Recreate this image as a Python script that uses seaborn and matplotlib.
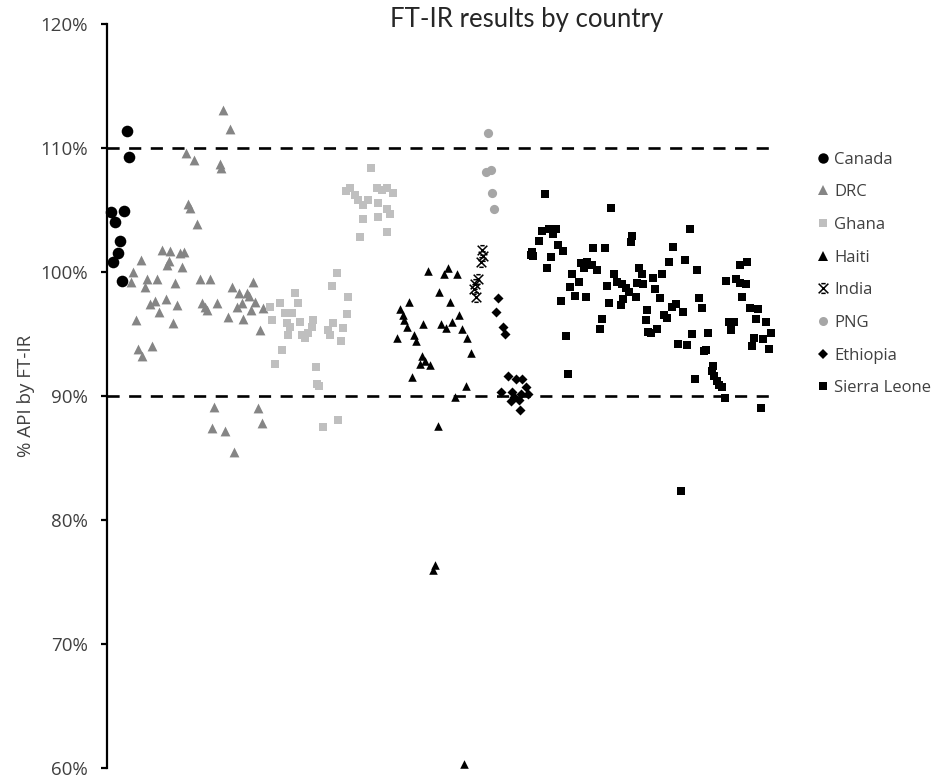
import numpy as np
import pandas as pd
import matplotlib
matplotlib.use("Agg")
import matplotlib.pyplot as plt
from matplotlib.path import Path
from matplotlib.lines import Line2D
from matplotlib.ticker import FuncFormatter
import seaborn as sns

# ---------------- data (sample position, % API by FT-IR) ----------------
countries = ["Canada", "DRC", "Ghana", "Haiti", "India", "PNG", "Ethiopia", "Sierra Leone"]

canada_x = [20, 22, 4, 17, 8, 13, 11, 6, 15]
canada_y = [111.4, 109.3, 104.8, 104.9, 104.0, 102.5, 101.5, 100.8, 99.3]

drc_x = [116, 123, 79, 87, 113, 114, 81, 83, 90, 55, 63, 73, 77, 62, 60, 75, 34, 26, 24, 40,
         50, 38, 68, 93, 103, 48, 43, 59, 52, 70, 29, 66, 31, 35, 45, 95, 98, 100, 110, 125,
         132, 140, 146, 130, 135, 142, 148, 144, 121, 136, 153, 156, 107, 105, 118, 127, 151, 155]
drc_y = [113.1, 111.5, 109.6, 109.0, 108.7, 108.4, 105.5, 105.2, 103.9, 101.8, 101.7, 101.5, 101.6, 100.9, 100.6, 100.4, 101.0, 100.0, 99.2, 99.4,
         99.4, 98.8, 99.1, 99.4, 99.4, 97.7, 97.4, 97.8, 96.8, 97.3, 96.1, 95.9, 93.8, 93.2, 94.0, 97.5, 97.2, 96.9, 97.5, 98.8,
         98.3, 98.3, 99.2, 97.2, 97.5, 98.1, 97.6, 96.9, 96.4, 96.2, 95.3, 97.1, 89.1, 87.4, 87.2, 85.5, 89.0, 87.8]

ghana_x = [264, 243, 251, 256, 248, 270, 275, 280, 286, 271, 261, 280, 283, 256, 271, 253, 280, 239,
           230, 225, 241, 188, 191, 173, 163, 165, 178, 185, 193, 206, 205, 183, 181, 195, 198, 201,
           221, 226, 236, 240, 223, 234, 175, 168, 209, 212, 210, 216, 231, 180]
ghana_y = [108.4, 106.8, 105.8, 105.4, 106.2, 106.8, 106.6, 106.8, 106.4, 105.6, 105.8, 105.1, 104.7, 104.3, 104.4, 102.8, 103.2, 106.5,
           99.9, 98.9, 98.0, 98.3, 97.5, 97.5, 97.2, 96.1, 96.7, 96.7, 96.0, 96.1, 95.6, 95.6, 94.9, 94.9, 94.7, 95.1,
           95.3, 95.9, 95.5, 96.6, 94.9, 94.4, 93.7, 92.6, 92.3, 90.8, 91.0, 87.5, 88.1, 95.9]

haiti_x = [321, 342, 338, 351, 332, 344, 302, 293, 296, 297, 300, 316, 335, 340, 346, 353, 356,
           361, 290, 307, 309, 365, 315, 313, 318, 323, 305, 360, 349, 331, 328, 326, 358]
haiti_y = [100.1, 100.3, 99.8, 99.8, 98.4, 97.6, 97.6, 97.0, 96.5, 96.1, 95.6, 95.8, 95.8, 95.5, 96.0, 96.5, 95.4,
           94.7, 94.7, 94.9, 94.4, 93.5, 93.2, 92.6, 92.8, 92.5, 91.5, 90.8, 89.9, 87.6, 76.4, 76.0, 60.3]

india_x = [376, 377, 375, 372, 369, 368, 370]
india_y = [101.8, 101.3, 100.8, 99.4, 99.0, 98.6, 98.0]

png_x = [382, 380, 385, 386, 388]
png_y = [111.2, 108.1, 108.2, 106.4, 105.1]

ethiopia_x = [392, 390, 397, 399, 402, 410, 416, 395, 406, 408, 415, 420, 422, 405, 413, 414]
ethiopia_y = [97.9, 96.8, 95.6, 95.0, 91.6, 91.4, 91.4, 90.3, 90.3, 89.9, 90.2, 90.7, 90.2, 89.6, 89.7, 88.9]

sierra_x = [439, 436, 443, 450, 447, 433, 452, 457, 426, 425, 427, 445, 441, 487, 499, 505, 526, 525,
            475, 481, 486, 491, 478, 466, 473, 464, 469, 480, 455, 508, 511, 516, 520, 523, 501, 503,
            517, 515, 530, 533, 536, 531, 537, 496, 494, 460, 462, 541, 540, 542, 584, 567, 579, 563,
            591, 556, 547, 549, 554, 558, 561, 566, 570, 577, 593, 596, 551, 545, 586, 602, 572, 581,
            598, 600, 589, 607, 606, 608, 611, 613, 616, 619, 575, 634, 641, 620, 630, 634, 640, 636,
            644, 652, 650, 660, 623, 628, 625, 665, 648, 657, 646, 663, 655]
sierra_y = [106.3, 103.3, 103.5, 103.5, 103.1, 102.5, 102.2, 101.7, 101.6, 101.4, 101.3, 101.2, 100.3, 101.9, 101.9, 105.2, 102.9, 102.4,
            100.7, 100.8, 100.6, 100.2, 100.3, 99.8, 99.2, 98.8, 98.1, 98.0, 97.7, 99.8, 99.2, 99.0, 98.7, 98.4, 98.9, 97.5,
            97.8, 97.3, 98.0, 100.3, 99.8, 99.1, 99.0, 96.2, 95.4, 94.8, 91.8, 96.9, 96.1, 95.2, 103.5, 102.0, 101.0, 100.8,
            100.2, 99.8, 99.5, 98.6, 97.9, 96.5, 96.3, 97.2, 97.4, 96.8, 97.9, 97.1, 95.4, 95.1, 95.0, 95.1, 94.2, 94.1,
            93.6, 93.7, 91.4, 92.4, 92.0, 91.6, 91.2, 90.9, 90.7, 89.8, 82.3, 100.6, 100.8, 99.3, 99.4, 99.1, 99.0, 98.0,
            97.1, 97.0, 96.2, 96.0, 96.0, 96.0, 95.3, 95.1, 94.7, 94.6, 94.0, 93.8, 89.0]

y_ticks = [60, 70, 80, 90, 100, 110, 120]
limit_lines = [90, 110]

# ---------------- styling ----------------
sns.set_theme(style="white")
plt.rcParams["font.family"] = ["Open Sans", "DejaVu Sans"]

# India marker: X with short horizontal caps
india_marker = Path(
    [(-1, -1), (1, 1), (-1, 1), (1, -1), (-0.45, 1), (0.45, 1), (-0.45, -1), (0.45, -1)],
    [Path.MOVETO, Path.LINETO, Path.MOVETO, Path.LINETO,
     Path.MOVETO, Path.LINETO, Path.MOVETO, Path.LINETO])

styles = {
    "Canada":       dict(color="#000000", marker="o", s=70, lw=0, leg_ms=7.5),
    "DRC":          dict(color="#858585", marker="^", s=50, lw=0, leg_ms=7.0),
    "Ghana":        dict(color="#bfbfbf", marker="s", s=40, lw=0, leg_ms=6.0),
    "Haiti":        dict(color="#000000", marker="^", s=38, lw=0, leg_ms=6.5),
    "India":        dict(color="#000000", marker=india_marker, s=48, lw=1.1, leg_ms=7.0),
    "PNG":          dict(color="#a6a6a6", marker="o", s=44, lw=0, leg_ms=6.5),
    "Ethiopia":     dict(color="#000000", marker="D", s=26, lw=0, leg_ms=5.5),
    "Sierra Leone": dict(color="#000000", marker="s", s=28, lw=0, leg_ms=5.5),
}

series = {
    "Canada": (canada_x, canada_y),
    "DRC": (drc_x, drc_y),
    "Ghana": (ghana_x, ghana_y),
    "Haiti": (haiti_x, haiti_y),
    "India": (india_x, india_y),
    "PNG": (png_x, png_y),
    "Ethiopia": (ethiopia_x, ethiopia_y),
    "Sierra Leone": (sierra_x, sierra_y),
}

df = pd.concat(
    [pd.DataFrame({"sample": series[c][0], "api": series[c][1], "country": c}) for c in countries],
    ignore_index=True)

fig = plt.figure(figsize=(9.32, 7.8), dpi=100)
ax = fig.add_axes([107 / 932, 1 - 768 / 780, (772 - 107) / 932, (768 - 24) / 780])

for lvl in limit_lines:
    ax.axhline(lvl, color="black", lw=1.9, linestyle=(0, (4.6, 3.6)), zorder=1)

for c in countries:
    st = styles[c]
    sub = df[df["country"] == c]
    sns.scatterplot(data=sub, x="sample", y="api", ax=ax, color=st["color"],
                    marker=st["marker"], s=st["s"], edgecolor=st["color"],
                    linewidth=st["lw"], legend=False, zorder=3, clip_on=False)

ax.set_xlim(0, 666)
ax.set_ylim(60, 120)
ax.set_yticks(y_ticks)
ax.yaxis.set_major_formatter(FuncFormatter(lambda v, p: f"{v:.0f}%"))
ax.set_xticks([])
ax.set_xlabel("")
ax.set_ylabel("")
for side in ["top", "right", "bottom"]:
    ax.spines[side].set_visible(False)
ax.spines["left"].set_linewidth(1.6)
ax.spines["left"].set_color("black")
ax.tick_params(axis="y", direction="out", length=4.5, width=1.6, color="black",
               pad=9.5, labelsize=13.5, labelcolor="#404040", left=True)

fig.text(26 / 932, 1 - 396 / 780, "% API by FT-IR", rotation=90, ha="center", va="center",
         fontsize=13.5, color="#404040")
fig.text(527 / 932, 1 - 20 / 780, "FT-IR results by country", ha="center", va="center",
         fontsize=18.5, color="#262626", family=["Lato", "DejaVu Sans"])

handles = []
for c in countries:
    st = styles[c]
    if c == "India":
        h = Line2D([], [], linestyle="none", marker=india_marker, markersize=st["leg_ms"],
                   markerfacecolor="none", markeredgecolor="black", markeredgewidth=1.1)
    else:
        h = Line2D([], [], linestyle="none", marker=st["marker"], markersize=st["leg_ms"],
                   markerfacecolor=st["color"], markeredgecolor=st["color"], markeredgewidth=0)
    handles.append(h)

fig.legend(handles, countries, loc="center left", bbox_to_anchor=(816 / 932, 1 - 274 / 780),
           frameon=False, fontsize=12, handlelength=0.8, handletextpad=0.3,
           labelspacing=1.0, borderpad=0, borderaxespad=0, labelcolor="#404040")

fig.savefig("out.png", dpi=100)
